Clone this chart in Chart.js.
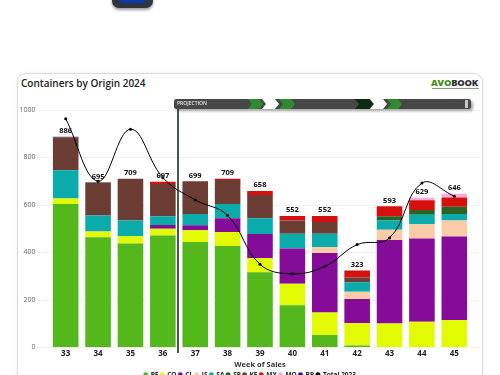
<!DOCTYPE html>
<html><head><meta charset="utf-8">
<style>
html,body{margin:0;padding:0;background:#fff;width:500px;height:375px;overflow:hidden;font-family:"Open Sans",sans-serif}
#card{position:absolute;left:17px;top:73px;width:466px;height:340px;border:1px solid #d9ddd6;border-radius:9px;box-shadow:0 0 3px rgba(0,0,0,.08);box-sizing:border-box}
#title{position:absolute;left:21px;top:76px;font:600 10px "Open Sans",sans-serif;color:#222;white-space:nowrap}
#logo{position:absolute;left:431px;top:77px;font:800 9.4px/12px "Open Sans",sans-serif;letter-spacing:-.2px;color:#333}
#logo b{color:#4a8f2a;font-weight:800}
#tag{position:absolute;left:432px;top:88px;width:47px;height:1px;background:#8a9a80}
#icon{position:absolute;left:112px;top:-14px;width:41px;height:22px;background:#2e3440;border-radius:7px;box-shadow:0 2px 3px rgba(0,0,0,.4)}
#icon i{position:absolute;left:7px;top:4px;width:27px;height:13px;background:#0b3aa8;border-radius:5px}
#wrap{position:absolute;left:0;top:0;width:500px;height:375px;overflow:hidden}
canvas{display:block}
</style></head><body>
<div id="icon"><i></i></div>
<div id="card"></div>
<div id="title">Containers by Origin 2024</div>
<div id="logo"><b>AVO</b>BOOK</div>
<div id="tag"></div>
<div id="wrap"><canvas id="c" width="500" height="388"></canvas></div>
<script src="https://cdn.jsdelivr.net/npm/chart.js@4"></script>
<script>
const weeks=["33","34","35","36","37","38","39","40","41","42","43","44","45"];
const PE=[603,463,437,470,443,426,316,177,51,7,0,0,0];
const CO=[23,24,30,29,49,59,59,90,95,94,100,107,115];
const CL=[0,0,0,16,21,58,102,149,251,102,351,351,351];
const JS=[0,0,0,0,0,0,0,0,25,30,44,60,68];
const SA=[119,68,67,36,48,60,66,62,56,41,39,40,27];
const SP=[0,0,0,0,0,0,0,0,0,0,17,20,30];
const KE=[139,138,175,136,138,101,98,56,49,19,0,0,0];
const MX=[0,0,0,10,0,5,17,18,25,30,42,41,39];
const MO=[0,0,0,0,0,0,0,0,0,0,0,10,16];
const BR=[2,2,0,0,0,0,0,0,0,0,0,0,0];
const total2023=[962,699,918,714,620,555,349,309,340,432,460,691,636];
const totals=[886,695,709,697,699,709,658,552,552,323,593,629,646];
const yTicks=[0,200,400,600,800,1000];
const projection="PROJECTION";
const xTitle="Week of Sales";
const stack=[["PE",PE,"#54b81c"],["CO",CO,"#e2fa04"],["CL",CL,"#840c98"],["JS",JS,"#f9cba6"],["SA",SA,"#0cabab"],["SP",SP,"#2a6326"],["KE",KE,"#6b3d34"],["MX",MX,"#d80f0f"],["MO",MO,"#fbaade"],["BR",BR,"#3a1390"]];
const datasets=[{type:"line",label:"Total 2023",data:total2023,borderColor:"#000",backgroundColor:"#000",borderWidth:1,pointRadius:1.5,pointHoverRadius:1.5,pointBorderWidth:0,tension:.4,order:0,pointStyle:"circle"}];
stack.forEach(([l,d,c])=>datasets.push({type:"bar",label:l,data:d,backgroundColor:c,stack:"a",order:1,categoryPercentage:1,barPercentage:.79}));

const overlay={id:"overlay",
 afterLayout(ch){ch.legend.left+=14.75;ch.legend.right+=14.75;},
 beforeDatasetsDraw(ch){
  const y=ch.scales.y,g=ch.ctx;
  g.save();g.strokeStyle="#e6e9e6";g.lineWidth=1;g.setLineDash([1,1]);
  yTicks.forEach(v=>{const p=Math.round(y.getPixelForValue(v))+.5;g.beginPath();g.moveTo(39,p);g.lineTo(480,p);g.stroke();});
  g.restore();
 },
 afterDatasetsDraw(ch){
  const x=ch.scales.x,y=ch.scales.y,g=ch.ctx;
  g.save();
  g.font='700 7.5px "Open Sans",sans-serif';g.fillStyle="#111";g.textAlign="center";g.textBaseline="bottom";
  totals.forEach((t,i)=>g.fillText(t,x.getPixelForValue(i),y.getPixelForValue(t)-2));
  const vx=178;
  g.fillStyle="#10201a";g.fillRect(vx-.75,107,1.5,246);
  g.shadowColor="rgba(0,0,0,.35)";g.shadowBlur=3;g.shadowOffsetX=2;g.shadowOffsetY=2;
  g.fillStyle="#474747";g.beginPath();g.roundRect(174,99,297,10,2.5);g.fill();
  g.shadowColor="transparent";g.shadowBlur=0;g.shadowOffsetX=0;g.shadowOffsetY=0;
  const chev=(a,w,c)=>{g.fillStyle=c;g.beginPath();g.moveTo(a,99);g.lineTo(a+w,99);g.lineTo(a+w+4,104);g.lineTo(a+w,109);g.lineTo(a,109);g.lineTo(a+4,104);g.closePath();g.fill();};
  chev(248,11,"#2e8b2e");chev(279,12,"#2e8b2e");chev(262,13,"#ffffff");
  chev(355,14,"#0f2a12");chev(387,11,"#2e8b2e");chev(370,13,"#ffffff");
  g.fillStyle="#c8c8c8";g.fillRect(465,100,3,8);
  g.fillStyle="#e8e8e8";g.font='600 5px "Open Sans",sans-serif';g.textAlign="left";g.textBaseline="middle";
  g.fillText(projection,177,104);
  g.restore();
 }};

new Chart(document.getElementById("c"),{
 data:{labels:weeks,datasets},
 plugins:[overlay],
 options:{responsive:false,animation:false,
  layout:{padding:{left:0,right:29.5,top:109.7,bottom:0}},
  scales:{
   x:{stacked:true,grid:{display:false,drawTicks:false},border:{display:false},afterFit(s){s.height=22.3;},
      ticks:{color:"#222",font:{family:"Open Sans",size:8,weight:"700"},padding:2,maxRotation:0},
      title:{display:true,text:xTitle,color:"#333",font:{family:"Open Sans",size:7.5,weight:"700"},padding:{top:1,bottom:0}}},
   y:{stacked:true,min:0,max:1000,afterBuildTicks(s){s.ticks=yTicks.map(v=>({value:v}));},afterFit(s){s.width=49.5;},
      grid:{display:false,drawTicks:false},border:{display:false},
      ticks:{color:"#666",font:{family:"Open Sans",size:7},padding:14,callback:v=>String(v)}}
  },
  plugins:{tooltip:{enabled:false},
   legend:{position:"bottom",labels:{usePointStyle:true,boxWidth:3.5,boxHeight:3.5,padding:2,color:"#222",font:{family:"Open Sans",size:6.5,weight:"700"},
     filter:it=>{it.lineWidth=0;return true;},
     sort:(a,b)=>(a.text==="Total 2023")-(b.text==="Total 2023")}}}
 }});
</script></body></html>
